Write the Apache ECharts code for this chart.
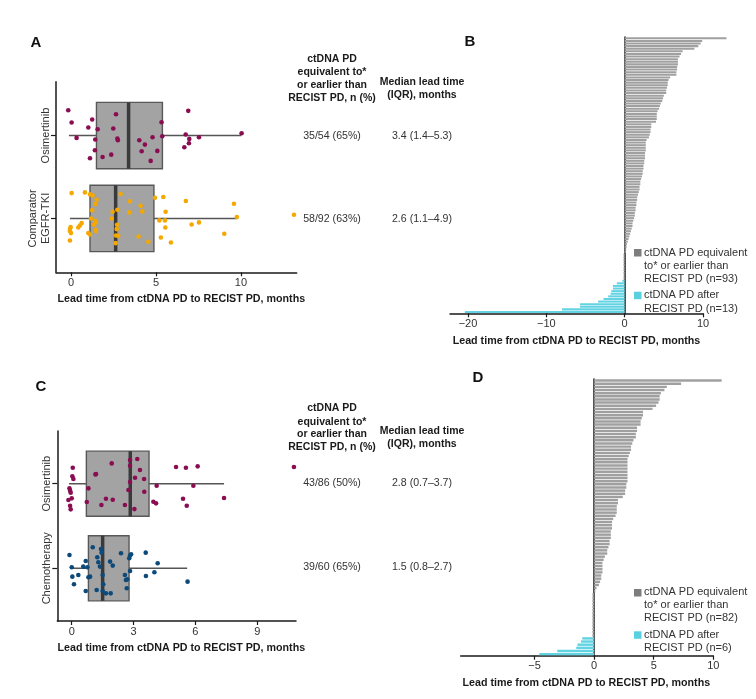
<!DOCTYPE html>
<html><head><meta charset="utf-8">
<script src="https://cdn.jsdelivr.net/npm/echarts@6/dist/echarts.min.js"></script>
<style>html,body{margin:0;padding:0;background:#fff}#c{width:756px;height:699px}</style>
</head><body><div id="c"></div><script>
// ---------- DATA ----------
// Panel A: boxplot groups (y position 1 = Osimertinib, 0 = Comparator)
const groupsA = ['Comparator\nEGFR-TKI', 'Osimertinib'];
const boxA_q1 = [1.12, 1.5];
const boxA_med = [2.63, 3.39];
const boxA_q3 = [4.88, 5.38];
const boxA_lo = [-0.06, -0.12];
const boxA_hi = [9.76, 10.02];
const osiA_x = [-0.16,0.04,0.33,1.02,1.25,1.57,1.43,1.41,1.12,1.86,2.37,2.49,2.65,2.73,2.76,4.02,4.35,4.16,4.80,5.08,4.69,5.33,5.37,6.90,6.75,6.96,6.94,6.67,7.53,10.04];
const osiA_jit = [0.306,0.157,-0.028,0.097,0.193,0.077,-0.048,-0.177,-0.274,-0.258,-0.23,0.085,0.258,-0.036,-0.056,-0.056,-0.109,-0.189,-0.02,-0.185,-0.306,0.161,-0.008,0.298,0.012,-0.04,-0.093,-0.141,-0.02,0.028];
const compA_x = [0.04,0.82,1.12,1.27,1.51,1.43,1.25,1.18,1.43,1.47,1.35,1.47,1.47,1.02,1.12,0.63,0.53,0.43,-0.02,-0.06,-0.06,0.0,-0.06,2.39,2.45,2.73,2.92,2.71,2.69,2.65,2.63,2.78,3.47,3.43,4.10,4.20,3.98,4.55,4.94,5.43,5.57,5.53,5.2,5.55,5.29,5.88,6.76,7.1,7.53,9.02,9.59,9.76,13.12];
const compA_jit = [0.306,0.314,0.29,0.278,0.226,0.173,0.1,0,-0.028,-0.048,-0.077,-0.137,-0.153,-0.177,-0.193,-0.056,-0.085,-0.109,-0.105,-0.129,-0.153,-0.177,-0.266,0,0.081,0.105,0.294,-0.077,-0.129,-0.206,-0.298,-0.21,0.206,0.073,0.153,0.085,-0.218,-0.282,0.25,0.258,0.081,-0.024,-0.024,-0.109,-0.23,-0.29,0.21,-0.073,-0.048,-0.185,0.177,0.016,0.044];

// Panel C
const groupsC = ['Chemotherapy', 'Osimertinib'];
const boxC_q1 = [0.81, 0.71];
const boxC_med = [1.5, 2.84];
const boxC_q3 = [2.78, 3.75];
const boxC_lo = [-0.08, -0.13];
const boxC_hi = [5.6, 7.39];
const osiC_x = [0.05,0.03,0.08,-0.11,-0.08,-0.05,-0.16,0.0,-0.08,-0.05,0.81,0.73,1.15,1.18,1.44,1.66,1.99,1.94,2.58,2.83,2.83,2.83,2.75,3.07,3.18,3.31,3.51,3.52,3.04,3.96,4.09,4.12,5.06,5.54,6.11,5.9,5.4,5.58,7.39,10.78];
const osiC_jit = [0.189,0.087,0.055,-0.055,-0.083,-0.106,-0.193,-0.173,-0.26,-0.303,-0.055,-0.217,0.11,0.114,-0.252,-0.177,-0.189,0.24,-0.252,0.28,0.213,0.02,-0.075,0.071,0.292,0.162,0.055,-0.095,-0.3,-0.213,-0.232,-0.024,0.197,0.189,0.205,-0.024,-0.177,-0.26,-0.169,0.197];
const chemoC_x = [-0.11,0.0,0.03,0.11,0.32,0.56,0.68,0.76,0.81,0.89,0.68,1.02,1.21,1.24,1.29,1.37,1.42,1.45,1.5,1.53,1.5,1.66,1.89,1.86,1.99,2.39,2.58,2.63,2.7,2.67,2.79,2.83,2.88,2.83,3.59,3.6,4.01,4.17,5.62];
const chemoC_jit = [0.158,0.012,-0.099,-0.189,-0.079,0.02,0.087,0.012,-0.106,-0.099,-0.268,0.248,-0.256,0.13,0.071,0.02,0.229,0.185,-0.079,-0.189,-0.268,-0.296,-0.296,0.079,0.032,0.177,-0.079,-0.138,-0.13,-0.236,0.118,0.15,0.165,-0.032,0.185,-0.091,-0.047,0.059,-0.158];

// Panel B waterfall (listed top to bottom)
const grayB = [13.0,9.9,9.7,9.4,8.9,7.4,7.2,7.0,6.8,6.8,6.8,6.7,6.7,6.6,6.6,5.8,5.6,5.5,5.5,5.4,5.3,5.3,5.0,4.9,4.8,4.6,4.5,4.4,4.2,4.1,4.1,4.1,4.0,3.4,3.4,3.3,3.3,3.2,3.1,2.8,2.7,2.7,2.7,2.7,2.6,2.6,2.6,2.5,2.5,2.4,2.4,2.3,2.3,2.2,2.1,2.0,2.0,1.9,1.9,1.8,1.7,1.6,1.6,1.5,1.5,1.4,1.4,1.3,1.3,1.2,1.1,1.0,1.0,0.9,0.8,0.7,0.6,0.5,0.4,0.3,0.25,0.2,0.15,-0.15,-0.15,-0.15,-0.15,-0.15,-0.15,-0.15,-0.15,-0.15,-0.15];
const cyanB = [-0.3,-1.0,-1.5,-1.5,-1.7,-1.8,-2.1,-2.7,-3.4,-5.7,-5.7,-8.0,-20.4];
// Panel D waterfall (listed top to bottom)
const grayD = [10.7,7.3,6.1,5.9,5.6,5.5,5.5,5.4,5.2,4.9,4.1,4.1,4.0,3.9,3.9,3.6,3.6,3.5,3.5,3.3,3.2,3.1,3.1,3.0,2.9,2.8,2.8,2.8,2.8,2.8,2.8,2.8,2.8,2.7,2.7,2.6,2.6,2.4,2.0,2.0,1.9,1.9,1.9,1.8,1.6,1.5,1.5,1.5,1.4,1.4,1.4,1.3,1.3,1.2,1.1,1.1,0.9,0.8,0.7,0.7,0.7,0.7,0.6,0.6,0.5,0.4,0.2,0.1,-0.15,-0.15,-0.15,-0.15,-0.15,-0.15,-0.15,-0.15,-0.15,-0.15,-0.15,-0.15,-0.15,-0.15];
const cyanD = [-1.0,-1.1,-1.4,-1.5,-3.1,-4.6];

const ticksA = [0,5,10];
const ticksB = [-20,-10,0,10];
const ticksC = [0,3,6,9];
const ticksD = [-5,0,5,10];

// ---------- STYLE ----------
const FONT = '"Liberation Sans", Arial, Helvetica, sans-serif';
const AX = '#1a1a1a';
const GRAYBAR = '#a0a0a0', CYAN = '#62d3e2';

function boxSeries(gi, q1, med, q3, lo, hi, half) {
  const data = q1.map((v, i) => [v, med[i], q3[i], lo[i], hi[i], i]);
  return {
    type: 'custom', xAxisIndex: gi, yAxisIndex: gi, z: 2, silent: true,
    data, encode: { x: [0, 1, 2, 3, 4], y: 5 },
    renderItem(params, api) {
      const y = api.value(5);
      const a = api.coord([api.value(3), y]);
      const b = api.coord([api.value(4), y]);
      const t1 = api.coord([api.value(0), y + half]);
      const b3 = api.coord([api.value(2), y - half]);
      const mt = api.coord([api.value(1), y + half]);
      const mb = api.coord([api.value(1), y - half]);
      return { type: 'group', children: [
        { type: 'line', shape: { x1: a[0], y1: a[1], x2: b[0], y2: b[1] }, style: { stroke: '#555', lineWidth: 1.5 } },
        { type: 'rect', shape: { x: t1[0], y: t1[1], width: b3[0] - t1[0], height: b3[1] - t1[1] }, style: { fill: '#a3a3a3', stroke: '#585858', lineWidth: 1.4 } },
        { type: 'line', shape: { x1: mt[0], y1: mt[1], x2: mb[0], y2: mb[1] }, style: { stroke: '#3a3a3a', lineWidth: 3.5 } }
      ]};
    }
  };
}
function dots(gi, xs, jit, pos, color) {
  return { type: 'scatter', xAxisIndex: gi, yAxisIndex: gi, z: 5, symbolSize: 4.6, silent: true, clip: false,
    itemStyle: { color: color, opacity: 1 },
    data: xs.map((v, i) => [v, pos + jit[i]]) };
}
function valX(gi, min, max, ticks) {
  return { gridIndex: gi, type: 'value', min, max,
    axisLine: { show: true, onZero: false, lineStyle: { color: AX, width: 1.5 } },
    axisTick: { show: true, customValues: ticks, length: 4, lineStyle: { color: AX, width: 1.2 } },
    axisLabel: { customValues: ticks, fontSize: 11, color: '#333', fontFamily: FONT, margin: 5,
      formatter: v => (v < 0 ? '\u2212' + Math.abs(v) : String(v)) },
    splitLine: { show: false } };
}
function boxY(gi, min, max, labels) {
  return { gridIndex: gi, type: 'value', min, max,
    axisLine: { show: true, onZero: false, lineStyle: { color: AX, width: 1.5 } },
    axisTick: { show: true, customValues: [0, 1], length: 5, lineStyle: { color: AX, width: 1.2 } },
    axisLabel: { customValues: [0, 1], rotate: 90, fontSize: 11, color: '#333', fontFamily: FONT, margin: 4, lineHeight: 13,
      formatter: v => labels[Math.round(v)] },
    splitLine: { show: false } };
}
function waterY(gi, n) {
  return { gridIndex: gi, type: 'category', data: Array.from({ length: n }, (_, i) => i),
    axisLine: { show: true, onZero: true, lineStyle: { color: AX, width: 1.5 } },
    axisTick: { show: false }, axisLabel: { show: false }, splitLine: { show: false } };
}
function waterSeries(gi, gray, cyan) {
  const g = gray.slice().reverse(), c = cyan.slice().reverse();
  const n = g.length + c.length;
  const gd = [], cd = [];
  for (let i = 0; i < n; i++) {
    if (i < c.length) { cd.push(c[i]); gd.push('-'); }
    else { gd.push(g[i - c.length]); cd.push('-'); }
  }
  return [
    { type: 'bar', xAxisIndex: gi, yAxisIndex: gi, data: gd, barGap: '-100%', barCategoryGap: '22%', clip: false, itemStyle: { color: GRAYBAR }, silent: true },
    { type: 'bar', xAxisIndex: gi, yAxisIndex: gi, data: cd, barGap: '-100%', barCategoryGap: '22%', clip: false, itemStyle: { color: CYAN }, silent: true }
  ];
}
function T(x, y, text, o) {
  o = o || {};
  return { type: 'text', x, y, silent: true, style: { text, fill: o.fill || '#333', fontSize: o.size || 10.6,
    fontWeight: o.bold ? 'bold' : 'normal', fontFamily: FONT, align: o.align || 'center', verticalAlign: 'middle' } };
}
function R(x, y, w, h, c) { return { type: 'rect', silent: true, shape: { x, y, width: w, height: h }, style: { fill: c } }; }

const chart = echarts.init(document.getElementById('c'));
const hdr = { bold: true, size: 10.5, fill: '#1a1a1a' };
const ttl = { bold: true, size: 10.7, fill: '#1a1a1a' };
const lg = { size: 11, align: 'left', fill: '#333' };
const nB = grayB.length + cyanB.length, nD = grayD.length + cyanD.length;

chart.setOption({
  backgroundColor: '#fff',
  animation: false,
  grid: [
    { left: 56, top: 81.7, width: 240.7, height: 190.6 },
    { left: 450, top: 37, width: 253, height: 276.3 },
    { left: 57.3, top: 431, width: 238.7, height: 190 },
    { left: 460.7, top: 379, width: 252.6, height: 276.7 }
  ],
  xAxis: [
    valX(0, -0.88, 13.28, ticksA),
    valX(1, -22.3, 10, ticksB),
    valX(2, -0.7, 10.88, ticksC),
    valX(3, -11.2, 10, ticksD)
  ],
  yAxis: [
    boxY(0, -0.65, 1.65, groupsA),
    waterY(1, nB),
    boxY(2, -0.623, 1.623, groupsC),
    waterY(3, nD)
  ],
  series: [
    boxSeries(0, boxA_q1, boxA_med, boxA_q3, boxA_lo, boxA_hi, 0.4),
    dots(0, osiA_x, osiA_jit, 1, '#8a0d52'),
    dots(0, compA_x, compA_jit, 0, '#f4a800'),
    boxSeries(2, boxC_q1, boxC_med, boxC_q3, boxC_lo, boxC_hi, 0.385),
    dots(2, osiC_x, osiC_jit, 1, '#8a0d52'),
    dots(2, chemoC_x, chemoC_jit, 0, '#0d4a7a'),
    ...waterSeries(1, grayB, cyanB),
    ...waterSeries(3, grayD, cyanD)
  ],
  graphic: [
    T(36, 43, 'A', { bold: true, size: 15, fill: '#111' }),
    T(470, 42, 'B', { bold: true, size: 15, fill: '#111' }),
    T(41, 387, 'C', { bold: true, size: 15, fill: '#111' }),
    T(478, 377.5, 'D', { bold: true, size: 15, fill: '#111' }),
    // Panel A table
    T(332, 59.3, 'ctDNA PD', hdr), T(332, 72.3, 'equivalent to*', hdr), T(332, 85, 'or earlier than', hdr), T(332, 98.3, 'RECIST PD, n (%)', hdr),
    T(422, 81.7, 'Median lead time', hdr), T(422, 95, '(IQR), months', hdr),
    T(332, 136, '35/54 (65%)'), T(422, 136, '3.4 (1.4\u20135.3)'),
    T(332, 218.7, '58/92 (63%)'), T(422, 218.7, '2.6 (1.1\u20134.9)'),
    // Panel C table
    T(332, 408.3, 'ctDNA PD', hdr), T(332, 421.7, 'equivalent to*', hdr), T(332, 434.3, 'or earlier than', hdr), T(332, 447.3, 'RECIST PD, n (%)', hdr),
    T(422, 431, 'Median lead time', hdr), T(422, 444, '(IQR), months', hdr),
    T(332, 482.7, '43/86 (50%)'), T(422, 482.7, '2.8 (0.7\u20133.7)'),
    T(332, 567.3, '39/60 (65%)'), T(422, 567.3, '1.5 (0.8\u20132.7)'),
    // axis titles
    T(181.3, 299.3, 'Lead time from ctDNA PD to RECIST PD, months', ttl),
    T(576.5, 341, 'Lead time from ctDNA PD to RECIST PD, months', ttl),
    T(181.3, 648, 'Lead time from ctDNA PD to RECIST PD, months', ttl),
    T(586.3, 683.3, 'Lead time from ctDNA PD to RECIST PD, months', ttl),
    // legend B
    R(634, 249, 7.5, 7.5, '#7d7d7d'),
    T(644, 252.7, 'ctDNA PD equivalent', lg), T(644, 266, 'to* or earlier than', lg), T(644, 279.3, 'RECIST PD (n=93)', lg),
    R(634, 291.7, 7.5, 7.5, '#58d0e0'),
    T(644, 295.3, 'ctDNA PD after', lg), T(644, 308.7, 'RECIST PD (n=13)', lg),
    // legend D
    R(634, 589, 7.5, 7.5, '#7d7d7d'),
    T(644, 591.7, 'ctDNA PD equivalent', lg), T(644, 605, 'to* or earlier than', lg), T(644, 618.3, 'RECIST PD (n=82)', lg),
    R(634, 631.3, 7.5, 7.5, '#58d0e0'),
    T(644, 635, 'ctDNA PD after', lg), T(644, 647.7, 'RECIST PD (n=6)', lg)
  ]
});
</script></body></html>
